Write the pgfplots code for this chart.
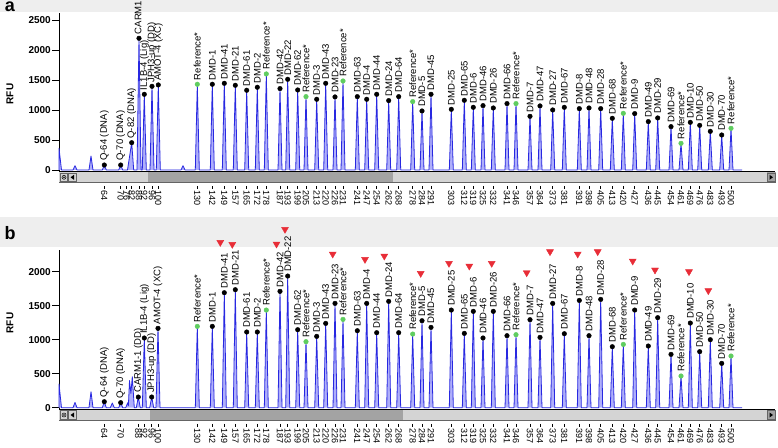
\documentclass[border=0pt]{standalone}
\usepackage{pgfplots}
\pgfplotsset{compat=1.18}
\usepackage{pgfplotstable}
\usepackage{fontspec}
\setmainfont{Liberation Sans}
\setsansfont{Liberation Sans}
\definecolor{trace}{RGB}{40,40,225}
\definecolor{tracefill}{RGB}{175,175,250}
\definecolor{refgreen}{RGB}{95,205,95}
\definecolor{markred}{RGB}{232,45,55}
\definecolor{band}{RGB}{238,238,238}
\definecolor{track}{RGB}{212,212,212}
\definecolor{thumb}{RGB}{163,163,163}
\definecolor{sbdark}{RGB}{100,100,100}
\newcommand\tk{\rule[0.3em]{3pt}{0.6pt}\hspace{1.2pt}}

\pgfplotstableread[col sep=comma]{
x,y,lab
104.3,83,Q-64 (DNA)
120.7,83,Q-70 (DNA)
131.7,455,Q-82 (DNA)
139,2194,CARM1-1 (DD)
144.3,1261,IL1B-4 (Lig)
152,1394,JPH3-up (DD)
158.3,1417,AMOT-4 (XC)
212.3,1428,DMD-1
224.3,1444,DMD-41
235.3,1411,DMD-21
246.7,1328,DMD-61
257.3,1378,DMD-2
280,1356,DMD-42
287.7,1511,DMD-22
297.7,1333,DMD-62
316.7,1178,DMD-3
325.7,1444,DMD-43
335,1217,DMD-23
357.3,1222,DMD-63
366.7,1178,DMD-4
376.7,1261,DMD-44
388.7,1156,DMD-24
398.7,1222,DMD-64
422,983,DMD-5
431,1261,DMD-45
451.3,1011,DMD-25
464.3,1161,DMD-65
473.3,1044,DMD-6
483,1072,DMD-46
493.3,1033,DMD-26
507,1106,DMD-66
530,894,DMD-7
540,1067,DMD-47
552.7,1000,DMD-27
564.3,1044,DMD-67
579.3,1022,DMD-8
589,1033,DMD-48
600.7,1022,DMD-28
612.3,861,DMD-68
634.7,939,DMD-9
648.3,806,DMD-49
657.7,867,DMD-29
671,722,DMD-69
690.3,794,DMD-10
699.7,744,DMD-50
710.3,644,DMD-30
721.7,583,DMD-70
}\probesA

\pgfplotstableread[col sep=comma]{
x,y,lab
197.3,1428,Reference*
266.3,1600,Reference*
306,1222,Reference*
343,1483,Reference*
412.7,1139,Reference*
516,1106,Reference*
623.3,944,Reference*
681,444,Reference*
731,694,Reference*
}\refsA

\pgfplotstableread[col sep=comma]{
x,y,lab
104.3,88,Q-64 (DNA)
120.7,74,Q-70 (DNA)
138.3,157,CARM1-1 (DD)
144.3,1025,IL1B-4 (Lig)
151.7,157,JPH3-up (DD)
158,1167,AMOT-4 (XC)
212.3,1196,DMD-1
224.3,1691,DMD-41
235.3,1735,DMD-21
246.7,1113,DMD-61
257.3,1113,DMD-2
280,1711,DMD-42
287.7,1936,DMD-22
297.7,1147,DMD-62
316.7,1049,DMD-3
325.7,1240,DMD-43
335,1534,DMD-23
357.3,1132,DMD-63
366.7,1534,DMD-4
376.7,1103,DMD-44
388.7,1564,DMD-24
398.7,1103,DMD-64
422,1279,DMD-5
431,1181,DMD-45
451.3,1436,DMD-25
464.3,1093,DMD-65
473.3,1417,DMD-6
483,1025,DMD-46
493.3,1417,DMD-26
507,1059,DMD-66
530,1294,DMD-7
540,1034,DMD-47
552.7,1534,DMD-27
564.3,1088,DMD-67
579.3,1578,DMD-8
589,1059,DMD-48
600.7,1593,DMD-28
612.3,897,DMD-68
634.7,1436,DMD-9
648.3,907,DMD-49
657.7,1324,DMD-29
671,784,DMD-69
690.3,1245,DMD-10
699.7,824,DMD-50
710.3,1000,DMD-30
721.7,652,DMD-70
}\probesB

\pgfplotstableread[col sep=comma]{
x,y,lab
197.3,1196,Reference*
266.3,1436,Reference*
306,971,Reference*
343,1299,Reference*
412.7,1083,Reference*
516,1074,Reference*
623.3,931,Reference*
681,466,Reference*
731,760,Reference*
}\refsB

\pgfplotstableread[col sep=comma]{
x,y
220.3,2431
232.3,2402
276.5,2407
285,2623
332.7,2260
365,2181
384.3,2230
420.7,1975
449,2123
469.3,2083
491.7,2123
526.7,1985
550,2294
577.7,2260
597.7,2294
632.7,2157
655,2025
689,2000
708.3,1721
}\arrowsB

\pgfplotsset{ekg/.style={
  scale only axis, width=716pt, xmin=59, xmax=775,
  axis x line=bottom, axis y line=left, axis line style={-},
  x axis line style={line width=1.4pt, black},
  y axis line style={line width=0.8pt, black},
  clip=false,
  xtick style={draw=none},
  ytick align=outside,
  ytick style={black, line width=0.7pt},
  major tick length=7pt,
  yticklabel style={font=\bfseries\fontsize{10}{12}\selectfont, inner sep=1pt},
  xticklabel style={font=\fontsize{9}{10}\selectfont, rotate=-90, anchor=west, inner sep=0pt},
  xticklabel shift=11pt,
  /pgf/number format/assume math mode=true,
  /pgf/number format/1000 sep={},
  nodes near coords style={font=\fontsize{9.5}{11}\selectfont, text=black, rotate=90, anchor=west, inner sep=4pt},
}}

\newcommand\scrollbar[2]{%
  \fill[track] ([yshift=-0.8pt]axis cs:59,#1) rectangle ([yshift=-11pt]axis cs:776,#1);
  \fill[thumb] ([yshift=-0.8pt]axis cs:#2) rectangle ([yshift=-11pt]axis cs:776,#1);
  \draw[sbdark, line width=0.8pt] ([yshift=-11pt]axis cs:59,#1) -- ([yshift=-11pt]axis cs:776,#1);
  \draw[sbdark, line width=0.6pt] ([yshift=-1.5pt]axis cs:60.5,#1) rectangle ([yshift=-10pt]axis cs:67.5,#1);
  \draw[sbdark, line width=0.6pt] ([yshift=-1.5pt]axis cs:68.5,#1) rectangle ([yshift=-10pt]axis cs:76,#1);
  \draw[sbdark, line width=0.6pt] ([yshift=-1.5pt]axis cs:767,#1) rectangle ([yshift=-10pt]axis cs:775,#1);
  \draw[black, line width=0.5pt] ([yshift=-5.8pt]axis cs:64,#1) circle (2pt);
  \fill[black] ([yshift=-5.8pt]axis cs:64,#1) circle (0.8pt);
  \fill[black] ([yshift=-5.8pt]axis cs:70.5,#1) -- ([yshift=-3.3pt]axis cs:74,#1) -- ([yshift=-8.3pt]axis cs:74,#1) -- cycle;
  \fill[black] ([yshift=-5.8pt]axis cs:773,#1) -- ([yshift=-3.3pt]axis cs:769.5,#1) -- ([yshift=-8.3pt]axis cs:769.5,#1) -- cycle;
}

\begin{document}
\begin{tikzpicture}
\useasboundingbox (0,0) rectangle (778pt,447pt);
\fill[white] (0,0) rectangle (778pt,447pt);
\fill[band] (0,435pt) rectangle (778pt,447pt);
\fill[band] (0,200pt) rectangle (778pt,230pt);

% ---------------- panel a ----------------
\begin{axis}[ekg, at={(59pt,275.5pt)}, anchor=south west, height=158.8pt,
  ymin=-25, ymax=2620, ytick={0,500,1000,1500,2000,2500},
  xtick={104.3,120.7,126.7,131.7,139,144.3,152,158.3,197.3,212.3,224.3,235.3,246.7,257.3,266.3,280,287.7,297.7,306,316.7,325.7,335,343,357.3,366.7,376.7,388.7,398.7,412.7,422,431,451.3,464.3,473.3,483,493.3,507,516,530,540,552.7,564.3,579.3,589,600.7,612.3,623.3,634.7,648.3,657.7,671,681,690.3,699.7,710.3,721.7,731},
  xticklabels={\tk64,\tk70,\tk76,\tk82,\tk88,\tk92,\tk96,\tk100,\tk130,\tk142,\tk149,\tk157,\tk165,\tk172,\tk178,\tk187,\tk193,\tk199,\tk205,\tk213,\tk220,\tk226,\tk231,\tk241,\tk247,\tk254,\tk262,\tk268,\tk278,\tk284,\tk291,\tk303,\tk312,\tk319,\tk325,\tk332,\tk341,\tk346,\tk357,\tk364,\tk373,\tk381,\tk391,\tk398,\tk405,\tk413,\tk420,\tk427,\tk436,\tk445,\tk454,\tk461,\tk469,\tk476,\tk483,\tk493,\tk500},
]
\scrollbar{-25}{148,-25}
\fill[track] ([yshift=-0.8pt]axis cs:393,-25) rectangle ([yshift=-10.6pt]axis cs:766.5,-25);
\addplot[draw=trace, fill=tracefill, line width=0.8pt, line join=round] coordinates {
(59,0)(59,361)(61.5,0)
(73,0)(75,72)(77,0)
(89,0)(91,233)(93,0)
(102.3,0)(104.3,83)(106.3,0)
(118.7,0)(120.7,83)(122.7,0)
(127.5,0)(129.8,250)(131.7,455)(133.7,0)
(137,0)(139,2194)(141,0)
(142.3,0)(144.3,1261)(146.3,0)
(150,0)(152,1394)(154,0)
(156.3,0)(158.3,1417)(160.3,0)
(181,0)(183,72)(185,0)
(195.3,0)(197.3,1428)(199.3,0)
(210.3,0)(212.3,1428)(214.3,0)
(222.3,0)(224.3,1444)(226.3,0)
(233.3,0)(235.3,1411)(237.3,0)
(244.7,0)(246.7,1328)(248.7,0)
(255.3,0)(257.3,1378)(259.3,0)
(264.3,0)(266.3,1600)(268.3,0)
(278,0)(280,1356)(282,0)
(285.7,0)(287.7,1511)(289.7,0)
(295.7,0)(297.7,1333)(299.7,0)
(304,0)(306,1222)(308,0)
(314.7,0)(316.7,1178)(318.7,0)
(323.7,0)(325.7,1444)(327.7,0)
(333,0)(335,1217)(337,0)
(341,0)(343,1483)(345,0)
(355.3,0)(357.3,1222)(359.3,0)
(364.7,0)(366.7,1178)(368.7,0)
(374.7,0)(376.7,1261)(378.7,0)
(386.7,0)(388.7,1156)(390.7,0)
(396.7,0)(398.7,1222)(400.7,0)
(410.7,0)(412.7,1139)(414.7,0)
(420,0)(422,983)(424,0)
(429,0)(431,1261)(433,0)
(449.3,0)(451.3,1011)(453.3,0)
(462.3,0)(464.3,1161)(466.3,0)
(471.3,0)(473.3,1044)(475.3,0)
(481,0)(483,1072)(485,0)
(491.3,0)(493.3,1033)(495.3,0)
(505,0)(507,1106)(509,0)
(514,0)(516,1106)(518,0)
(528,0)(530,894)(532,0)
(538,0)(540,1067)(542,0)
(550.7,0)(552.7,1000)(554.7,0)
(562.3,0)(564.3,1044)(566.3,0)
(577.3,0)(579.3,1022)(581.3,0)
(587,0)(589,1033)(591,0)
(598.7,0)(600.7,1022)(602.7,0)
(610.3,0)(612.3,861)(614.3,0)
(621.3,0)(623.3,944)(625.3,0)
(632.7,0)(634.7,939)(636.7,0)
(646.3,0)(648.3,806)(650.3,0)
(655.7,0)(657.7,867)(659.7,0)
(669,0)(671,722)(673,0)
(679,0)(681,444)(683,0)
(688.3,0)(690.3,794)(692.3,0)
(697.7,0)(699.7,744)(701.7,0)
(708.3,0)(710.3,644)(712.3,0)
(719.7,0)(721.7,583)(723.7,0)
(729,0)(731,694)(733,0)
(742,0)
};
\addplot[only marks, mark=*, mark size=2.3pt, black, nodes near coords, point meta=explicit symbolic] table[x=x,y=y,meta=lab]{\probesA};
\addplot[only marks, mark=*, mark size=2.3pt, refgreen, nodes near coords, point meta=explicit symbolic] table[x=x,y=y,meta=lab]{\refsA};
\end{axis}

% ---------------- panel b ----------------
\begin{axis}[ekg, at={(59pt,37.8pt)}, anchor=south west, height=159.2pt,
  ymin=-22, ymax=2319, ytick={0,500,1000,1500,2000},
  xtick={104.3,120.7,138.3,144.3,151.7,158,197.3,212.3,224.3,235.3,246.7,257.3,266.3,280,287.7,297.7,306,316.7,325.7,335,343,357.3,366.7,376.7,388.7,398.7,412.7,422,431,451.3,464.3,473.3,483,493.3,507,516,530,540,552.7,564.3,579.3,589,600.7,612.3,623.3,634.7,648.3,657.7,671,681,690.3,699.7,710.3,721.7,731},
  xticklabels={\tk64,\tk70,\tk88,\tk92,\tk96,\tk100,\tk130,\tk142,\tk149,\tk157,\tk165,\tk172,\tk178,\tk187,\tk193,\tk199,\tk205,\tk213,\tk220,\tk226,\tk231,\tk241,\tk247,\tk254,\tk262,\tk268,\tk278,\tk284,\tk291,\tk303,\tk312,\tk319,\tk325,\tk332,\tk341,\tk346,\tk357,\tk364,\tk373,\tk381,\tk391,\tk398,\tk405,\tk413,\tk420,\tk427,\tk436,\tk445,\tk454,\tk461,\tk469,\tk476,\tk483,\tk493,\tk500},
]
\scrollbar{-22}{150,-22}
\fill[track] ([yshift=-0.8pt]axis cs:403,-22) rectangle ([yshift=-10.6pt]axis cs:766.5,-22);
\addplot[draw=trace, fill=tracefill, line width=0.8pt, line join=round] coordinates {
(59,0)(59,348)(61.5,0)
(73,0)(75,78)(77,0)
(89,0)(91,235)(93,0)
(102.3,0)(104.3,88)(106.3,0)
(110.3,0)(112.3,69)(114.3,0)
(118.7,0)(120.7,74)(122.7,0)
(125.7,0)(127.7,73)(128.4,30)(129.5,400)(130.9,210)(132.3,456)(134.3,0)
(136.3,0)(138.3,157)(140.3,0)
(142.3,0)(144.3,1025)(146.3,0)
(149.7,0)(151.7,157)(153.7,0)
(156,0)(158,1167)(160,0)
(195.3,0)(197.3,1196)(199.3,0)
(210.3,0)(212.3,1196)(214.3,0)
(222.3,0)(224.3,1691)(226.3,0)
(233.3,0)(235.3,1735)(237.3,0)
(244.7,0)(246.7,1113)(248.7,0)
(255.3,0)(257.3,1113)(259.3,0)
(264.3,0)(266.3,1436)(268.3,0)
(278,0)(280,1711)(282,0)
(285.7,0)(287.7,1936)(289.7,0)
(295.7,0)(297.7,1147)(299.7,0)
(304,0)(306,971)(308,0)
(314.7,0)(316.7,1049)(318.7,0)
(323.7,0)(325.7,1240)(327.7,0)
(333,0)(335,1534)(337,0)
(341,0)(343,1299)(345,0)
(355.3,0)(357.3,1132)(359.3,0)
(364.7,0)(366.7,1534)(368.7,0)
(374.7,0)(376.7,1103)(378.7,0)
(386.7,0)(388.7,1564)(390.7,0)
(396.7,0)(398.7,1103)(400.7,0)
(410.7,0)(412.7,1083)(414.7,0)
(420,0)(422,1279)(424,0)
(429,0)(431,1181)(433,0)
(449.3,0)(451.3,1436)(453.3,0)
(462.3,0)(464.3,1093)(466.3,0)
(471.3,0)(473.3,1417)(475.3,0)
(481,0)(483,1025)(485,0)
(491.3,0)(493.3,1417)(495.3,0)
(505,0)(507,1059)(509,0)
(514,0)(516,1074)(518,0)
(528,0)(530,1294)(532,0)
(538,0)(540,1034)(542,0)
(550.7,0)(552.7,1534)(554.7,0)
(562.3,0)(564.3,1088)(566.3,0)
(577.3,0)(579.3,1578)(581.3,0)
(587,0)(589,1059)(591,0)
(598.7,0)(600.7,1593)(602.7,0)
(610.3,0)(612.3,897)(614.3,0)
(621.3,0)(623.3,931)(625.3,0)
(632.7,0)(634.7,1436)(636.7,0)
(646.3,0)(648.3,907)(650.3,0)
(655.7,0)(657.7,1324)(659.7,0)
(669,0)(671,784)(673,0)
(679,0)(681,466)(683,0)
(688.3,0)(690.3,1245)(692.3,0)
(697.7,0)(699.7,824)(701.7,0)
(708.3,0)(710.3,1000)(712.3,0)
(719.7,0)(721.7,652)(723.7,0)
(729,0)(731,760)(733,0)
(742,0)
};
\addplot[only marks, mark=*, mark size=2.3pt, black, nodes near coords, point meta=explicit symbolic] table[x=x,y=y,meta=lab]{\probesB};
\addplot[only marks, mark=*, mark size=2.3pt, refgreen, nodes near coords, point meta=explicit symbolic] table[x=x,y=y,meta=lab]{\refsB};
\addplot[only marks, mark=triangle*, mark size=4pt, mark options={rotate=180}, color=markred] table[x=x,y=y]{\arrowsB};
\end{axis}

\node[font=\bfseries\fontsize{18}{18}\selectfont] at (10pt,440pt) {a};
\node[font=\bfseries\fontsize{18}{18}\selectfont] at (10pt,214pt) {b};
\node[font=\bfseries\fontsize{10}{12}\selectfont, rotate=90] at (10pt,353pt) {RFU};
\node[font=\bfseries\fontsize{10}{12}\selectfont, rotate=90] at (10pt,124pt) {RFU};
\end{tikzpicture}
\end{document}
